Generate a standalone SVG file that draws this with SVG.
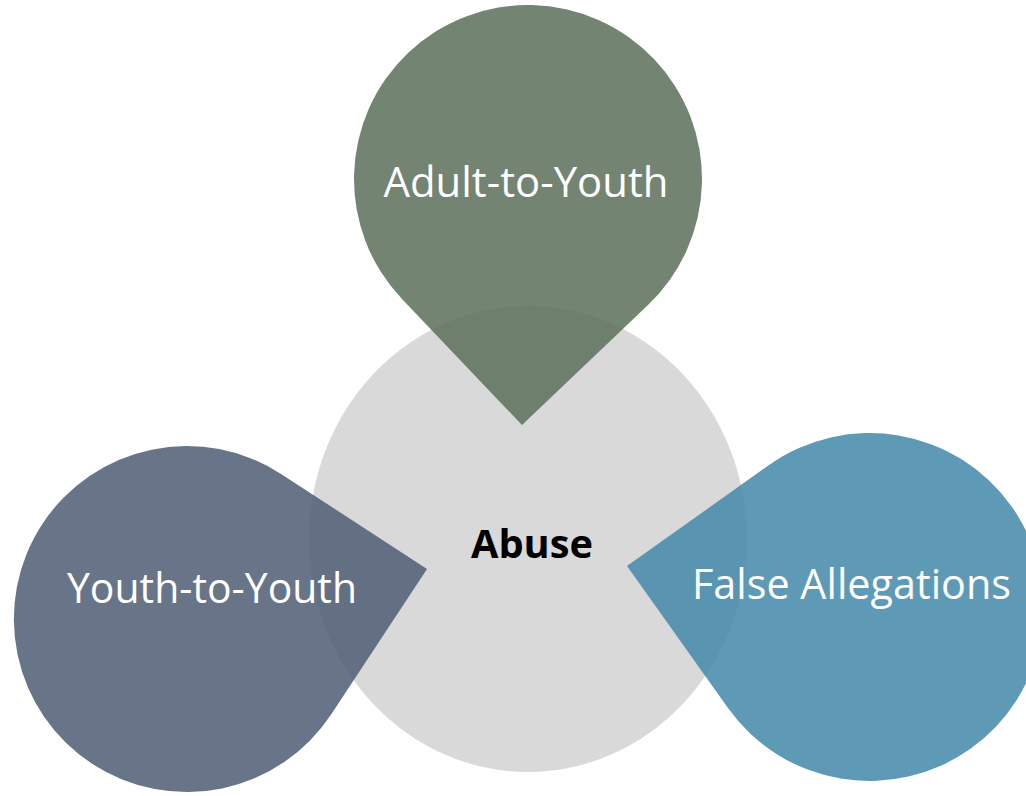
<svg xmlns="http://www.w3.org/2000/svg" width="1026" height="796" viewBox="0 0 1026 796">
<style>
.drop{fill-opacity:0.85}
.lbl{font-family:"Open Sans","Noto Sans","Liberation Sans",sans-serif;font-size:42px;fill:#ffffff;text-anchor:middle}
.ctr{font-family:"Open Sans","Noto Sans","Liberation Sans",sans-serif;font-size:40px;font-weight:bold;fill:#000000;text-anchor:middle}
</style>
<rect width="1026" height="796" fill="#ffffff"/>
<g id="center">
<ellipse cx="528" cy="539" rx="219" ry="233" fill="#d9d9d9"/>
<text class="ctr" x="532" y="558" textLength="122" lengthAdjust="spacingAndGlyphs">Abuse</text>
</g>
<g id="connectors"></g>
<g id="adult-to-youth">
<path class="drop" fill="#5b6e5b" d="M522,425 L402,299 A174,174 0 1 1 648,305 Z"/>
<text class="lbl" x="526" y="197" textLength="285" lengthAdjust="spacingAndGlyphs">Adult-to-Youth</text>
</g>
<g id="youth-to-youth">
<path class="drop" fill="#4d5d73" d="M427,569 L281.8,474.4 A173,173 0 1 0 331.6,713.8 Z"/>
<text class="lbl" x="212" y="603" textLength="290" lengthAdjust="spacingAndGlyphs">Youth-to-Youth</text>
</g>
<g id="false-allegations">
<path class="drop" fill="#4288a8" d="M627,566 L768.8,465.2 A174,174 0 1 1 727.8,707.8 Z"/>
<text class="lbl" x="851.5" y="599" textLength="319" lengthAdjust="spacingAndGlyphs">False Allegations</text>
</g>
</svg>
